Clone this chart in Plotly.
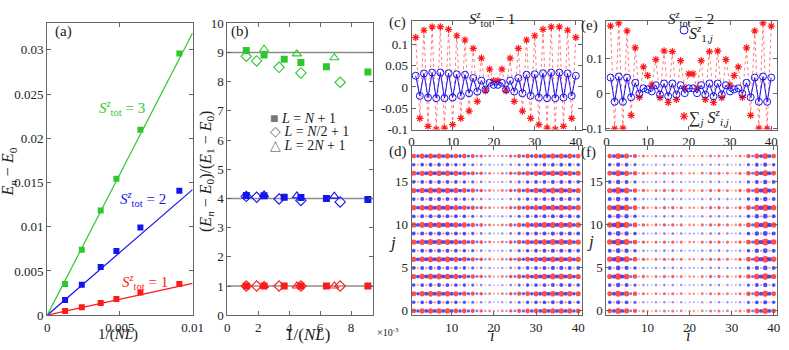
import plotly.graph_objects as go

W, H = 789, 350

# ---- panel (a) / (b): finite size gaps, L = N + 1 -------------------------
inv_nl = [0.00123, 0.00238, 0.00368, 0.00476, 0.00641, 0.00909]
gap_s1 = [0.00047, 0.0009, 0.00137, 0.00184, 0.00256, 0.00354]
gap_s2 = [0.00173, 0.00343, 0.00544, 0.00725, 0.00992, 0.01406]
gap_s3 = [0.00353, 0.0074, 0.01183, 0.01543, 0.02095, 0.02957]
fit_slope = [0.36, 1.42, 3.19]  # linear fits for S=1,2,3
fit_x = [0.0, 0.01]

# panel (b): (E_n - E_0)/(E_1 - E_0)
inv_nl_half = [0.00123, 0.0019, 0.00335, 0.00476, 0.0073]   # L = N/2 + 1
inv_nl_two = [0.00238, 0.0045, 0.00692]                    # L = 2N + 1
ratio_sq_s1 = [1.0, 1.0, 1.0, 1.0, 1.0, 1.0]
ratio_sq_s2 = [4.10, 4.09, 4.04, 4.03, 4.00, 3.96]
ratio_sq_s3 = [9.07, 8.91, 8.77, 8.66, 8.51, 8.33]
ratio_di_s1 = [1.0, 1.0, 1.0, 1.0, 1.0]
ratio_di_s2 = [4.07, 4.04, 3.98, 3.93, 3.88]
ratio_di_s3 = [8.87, 8.71, 8.49, 8.30, 7.98]
ratio_tr_s1 = [1.02, 1.0, 1.0]
ratio_tr_s2 = [4.12, 4.09, 4.08]
ratio_tr_s3 = [9.11, 8.95, 8.82]
ref_levels = [1, 4, 9]

# ---- panels (c) / (e) ------------------------------------------------------
site = list(range(1, 41))
c_sum = [0.117, -0.074, 0.134, -0.093, 0.142, -0.100, 0.142, -0.097, 0.136, -0.089,
         0.121, -0.074, 0.111, -0.057, 0.091, -0.034, 0.068, -0.009, 0.042, 0.015,
         0.015, 0.042, -0.009, 0.068, -0.034, 0.091, -0.057, 0.111, -0.074, 0.121,
         -0.089, 0.136, -0.097, 0.142, -0.100, 0.142, -0.093, 0.134, -0.074, 0.117]
c_spin = [0.0265, -0.021, 0.032, -0.025, 0.034, -0.0265, 0.034, -0.0265, 0.0326, -0.025,
          0.030, -0.021, 0.029, -0.015, 0.021, -0.011, 0.015, -0.006, 0.010, 0.005,
          0.005, 0.010, -0.006, 0.015, -0.011, 0.021, -0.015, 0.029, -0.021, 0.030,
          -0.025, 0.0326, -0.0265, 0.034, -0.0265, 0.034, -0.025, 0.032, -0.021, 0.0265]
e_sum = [0.195, -0.102, 0.204, -0.100, 0.181, -0.063, 0.132, -0.011, 0.077, 0.052,
         0.024, 0.098, -0.012, 0.123, -0.026, 0.121, -0.017, 0.095, 0.015, 0.057,
         0.057, 0.015, 0.095, -0.017, 0.121, -0.026, 0.123, -0.012, 0.098, 0.024,
         0.052, 0.077, -0.011, 0.132, -0.063, 0.181, -0.100, 0.204, -0.102, 0.195]
e_spin = [0.046, -0.024, 0.049, -0.024, 0.046, -0.011, 0.031, 0.0, 0.015, 0.012,
          0.006, 0.024, -0.003, 0.029, -0.008, 0.029, -0.003, 0.024, 0.001, 0.015,
          0.015, 0.001, 0.024, -0.003, 0.029, -0.008, 0.029, -0.003, 0.024, 0.006,
          0.012, 0.015, 0.0, 0.031, -0.011, 0.046, -0.024, 0.049, -0.024, 0.046]

# ---- panels (d) / (f): S^z_{i,j}, even-j rows, odd-j rows and row weights ---
rows = list(range(19))
d_even = [0.030, -0.018, 0.033, -0.020, 0.035, -0.021, 0.035, -0.021, 0.034, -0.020,
          0.031, -0.018, 0.028, -0.015, 0.023, -0.011, 0.017, -0.007, 0.011, 0.006,
          0.006, 0.011, -0.007, 0.017, -0.011, 0.023, -0.015, 0.028, -0.018, 0.031,
          -0.020, 0.034, -0.021, 0.035, -0.021, 0.035, -0.020, 0.033, -0.018, 0.030]
d_odd = [-0.018, 0.006, -0.020, 0.007, -0.021, 0.007, -0.021, 0.007, -0.020, 0.007,
         -0.019, 0.006, -0.017, 0.005, -0.014, 0.004, -0.010, 0.003, -0.007, -0.003,
         -0.003, -0.007, 0.003, -0.010, 0.004, -0.014, 0.005, -0.017, 0.006, -0.019,
         0.007, -0.020, 0.007, -0.021, 0.007, -0.021, 0.007, -0.020, 0.006, -0.018]
d_row_w = [0.9, 0.9, 0.95, 0.95, 1.0, 1.0, 1.0, 1.0, 1.05, 1.05,
           1.05, 1.0, 1.0, 1.0, 1.0, 0.95, 0.95, 0.9, 0.9]
f_even = [0.030, -0.022, 0.040, -0.022, 0.034, -0.012, 0.026, -0.004, 0.014, 0.008,
          0.004, 0.012, -0.004, 0.014, -0.005, 0.014, -0.004, 0.012, 0.002, 0.008,
          0.008, 0.002, 0.012, -0.004, 0.014, -0.005, 0.014, -0.004, 0.012, 0.004,
          0.008, 0.014, -0.004, 0.026, -0.012, 0.034, -0.022, 0.040, -0.022, 0.030]
f_odd = [-0.020, 0.006, -0.026, 0.006, -0.022, 0.004, -0.016, 0.002, -0.008, -0.004,
         -0.003, -0.008, 0.002, -0.009, 0.003, -0.009, 0.002, -0.008, -0.002, -0.005,
         -0.005, -0.002, -0.008, 0.002, -0.009, 0.003, -0.009, 0.002, -0.008, -0.003,
         -0.004, -0.008, 0.002, -0.016, 0.004, -0.022, 0.006, -0.026, 0.006, -0.020]
f_row_w = [0.85, 0.85, 0.92, 0.92, 1.0, 1.0, 1.05, 1.05, 1.08, 1.08,
           1.08, 1.05, 1.05, 1.0, 1.0, 0.92, 0.92, 0.85, 0.85]

RED, BLUE, GREEN, GRAY = "#ff1a1a", "#1414f0", "#2ec82e", "#8c8c8c"
SERIF = "Liberation Serif, Times New Roman, serif"


def px(x):
    return x / W


def py(y):
    return 1 - y / H


fig = go.Figure()

# panel (a)
for vals, slope, col in [(gap_s1, fit_slope[0], RED), (gap_s2, fit_slope[1], BLUE),
                         (gap_s3, fit_slope[2], GREEN)]:
    fig.add_trace(go.Scatter(x=fit_x, y=[slope * v for v in fit_x], mode="lines",
                             line=dict(color=col, width=1.2), xaxis="x", yaxis="y"))
    fig.add_trace(go.Scatter(x=inv_nl, y=vals, mode="markers",
                             marker=dict(symbol="square", size=6, color=col),
                             xaxis="x", yaxis="y"))

# panel (b)
for lev in ref_levels:
    fig.add_trace(go.Scatter(x=[0, 9.44], y=[lev, lev], mode="lines",
                             line=dict(color=GRAY, width=1.6), xaxis="x2", yaxis="y2"))
to_milli = lambda xs: [v * 1000 for v in xs]
for sq, di, tr, col in [(ratio_sq_s1, ratio_di_s1, ratio_tr_s1, RED),
                        (ratio_sq_s2, ratio_di_s2, ratio_tr_s2, BLUE),
                        (ratio_sq_s3, ratio_di_s3, ratio_tr_s3, GREEN)]:
    fig.add_trace(go.Scatter(x=to_milli(inv_nl), y=sq, mode="markers",
                             marker=dict(symbol="square", size=7, color=col),
                             xaxis="x2", yaxis="y2"))
    fig.add_trace(go.Scatter(x=to_milli(inv_nl_half), y=di, mode="markers",
                             marker=dict(symbol="diamond-open", size=8, color=col,
                                         line=dict(width=1.1, color=col)),
                             xaxis="x2", yaxis="y2"))
    fig.add_trace(go.Scatter(x=to_milli(inv_nl_two), y=tr, mode="markers",
                             marker=dict(symbol="triangle-up-open", size=8, color=col,
                                         line=dict(width=1.1, color=col)),
                             xaxis="x2", yaxis="y2"))

# panels (c) and (e)
STAR = dict(symbol="asterisk-open", size=6, color=RED, line=dict(width=1.2, color=RED))
RING = dict(symbol="circle-open", size=7, color=BLUE, line=dict(width=1, color=BLUE))
for s_sum, s_spin, xa, ya in [(c_sum, c_spin, "x3", "y3"), (e_sum, e_spin, "x5", "y5")]:
    fig.add_trace(go.Scatter(x=site, y=s_sum, mode="lines+markers",
                             line=dict(color="rgba(255,90,90,0.8)", width=1, dash="dot"),
                             marker=STAR, xaxis=xa, yaxis=ya))
    fig.add_trace(go.Scatter(x=site, y=s_spin, mode="lines+markers",
                             line=dict(color=BLUE, width=1),
                             marker=RING, xaxis=xa, yaxis=ya))


# panels (d) and (f): dot maps
def dot_map(even, odd, row_w, xa, ya):
    xs, ys, sizes, cols = [], [], [], []
    for j in rows:
        base = even if j % 2 == 0 else odd
        for i, v0 in zip(site, base):
            v = v0 * row_w[j]
            a = 0.3 + 0.7 * min(1.0, abs(v) / 0.016)
            xs.append(i)
            ys.append(j)
            sizes.append(1.6 + 120 * abs(v))
            cols.append(f"rgba(255,0,0,{a:.2f})" if v > 0 else f"rgba(0,0,255,{a:.2f})")
    fig.add_trace(go.Scatter(x=xs, y=ys, mode="markers",
                             marker=dict(size=sizes, color=cols, line=dict(width=0)),
                             xaxis=xa, yaxis=ya))


dot_map(d_even, d_odd, d_row_w, "x4", "y4")
dot_map(f_even, f_odd, f_row_w, "x6", "y6")
fig.update_traces(showlegend=False)

# legend symbols of (e), one small legend per entry; the labels are annotations
fig.add_trace(go.Scatter(x=[None], y=[None], mode="markers", marker=dict(RING, size=8),
                         name=" ", showlegend=True, legend="legend",
                         xaxis="x5", yaxis="y5"))
fig.add_trace(go.Scatter(x=[None], y=[None], mode="markers", marker=dict(STAR, size=7),
                         name=" ", showlegend=True, legend="legend2",
                         xaxis="x5", yaxis="y5"))

tick_font = dict(family=SERIF, size=13, color="#222")
base_ax = dict(showline=True, linecolor="#666", linewidth=1, mirror="allticks",
               ticks="inside", ticklen=4, tickcolor="#666", showgrid=False,
               zeroline=False, tickfont=tick_font, fixedrange=True)


def ax(dom, rng, anchor, tickvals, ticktext=None):
    d = dict(base_ax, domain=dom, range=rng, anchor=anchor, tickvals=tickvals)
    if ticktext is not None:
        d["ticktext"] = ticktext
    return d


def small_legend(x, y):
    return dict(x=px(x), y=py(y), xanchor="left", yanchor="top", bgcolor="rgba(0,0,0,0)",
                borderwidth=0, font=dict(size=10), itemwidth=30)


xa_dom = [px(45), px(193)]
xb_dom = [px(228.3), px(377)]
xc_dom = [px(416), px(589)]
xe_dom = [px(614.3), px(788)]
y_full = [py(322), py(17)]
y_top = [py(128), py(15)]
y_bot = [py(322), py(145)]

fig.update_layout(
    width=W, height=H, margin=dict(l=0, r=0, t=0, b=0),
    paper_bgcolor="white", plot_bgcolor="white", showlegend=True,
    font=dict(family=SERIF, color="#222"),
    legend=small_legend(673, 9),
    legend2=small_legend(673, 99),
    xaxis=ax(xa_dom, [0, 0.01], "y", [0, 0.005, 0.01], ["0", "0.005", "0.01"]),
    yaxis=ax(y_full, [0, 0.033], "x", [0, 0.005, 0.01, 0.015, 0.02, 0.025, 0.03],
             ["0", "0.005", "0.01", "0.015", "0.02", "0.025", "0.03"]),
    xaxis2=ax(xb_dom, [0, 9.44], "y2", [0, 2, 4, 6, 8]),
    yaxis2=ax(y_full, [0, 10], "x2", list(range(11))),
    xaxis3=ax(xc_dom, [0, 41.4], "y3", [0, 10, 20, 30, 40]),
    yaxis3=ax(y_top, [-0.1005, 0.155], "x3", [-0.1, -0.05, 0, 0.05, 0.1],
              ["-0.1", "-0.05", "0", "0.05", "0.1"]),
    xaxis4=ax(xc_dom, [0.5, 40.8], "y4", [10, 20, 30, 40]),
    yaxis4=ax(y_bot, [-0.5, 19.2], "x4", [0, 5, 10, 15]),
    xaxis5=ax(xe_dom, [0, 41.4], "y5", [0, 10, 20, 30, 40]),
    yaxis5=ax(y_top, [-0.104, 0.2085], "x5", [-0.1, 0, 0.1], ["-0.1", "0", "0.1"]),
    xaxis6=ax(xe_dom, [0.2, 40.8], "y6", [10, 20, 30, 40]),
    yaxis6=ax(y_bot, [-0.5, 19.2], "x6", [0, 5, 10, 15]),
)

S_TOT = "<i>S</i><sup><i>z</i></sup><sub>tot</sub>"


def note(text, x, y, size=15, color="#222", xanchor="left", yanchor="middle", angle=0):
    fig.add_annotation(text=text, x=px(x), y=py(y), xref="paper", yref="paper",
                       showarrow=False, xanchor=xanchor, yanchor=yanchor,
                       textangle=angle, font=dict(family=SERIF, size=size, color=color))


# panel tags
note("(a)", 51, 26)
note("(b)", 230, 26)
note("(c)", 391, 16)
note("(d)", 391, 151)
note("(e)", 586, 19)
note("(f)", 586, 152)

# titles
note(S_TOT + " = 1", 498, 0, xanchor="center", yanchor="top")
note(S_TOT + " = 2", 700, 0, xanchor="center", yanchor="top")

# curve labels in (a)
note(S_TOT + " = 3", 96, 105, color=GREEN)
note(S_TOT + " = 2", 117, 201, color=BLUE)
note(S_TOT + " = 1", 119, 287, color=RED)

# axis titles
note("<i>E</i><sub><i>n</i></sub> − <i>E</i><sub>0</sub>", 6, 172, size=16,
     xanchor="center", angle=-90)
note("1/(<i>NL</i>)", 117, 331, size=15, xanchor="center", yanchor="top")
note("(<i>E</i><sub><i>n</i></sub> − <i>E</i><sub>0</sub>)/(<i>E</i><sub>1</sub> − <i>E</i><sub>0</sub>)",
     207, 172, size=16, xanchor="center", angle=-90)
note("1/(<i>NL</i>)", 310, 330, size=17, xanchor="center", yanchor="top")
note("×10<sup>-3</sup>", 379, 331, size=10, yanchor="top")
note("<i>j</i>", 397, 246, size=17, xanchor="center")
note("<i>i</i>", 498, 332, size=16, xanchor="center", yanchor="top")
note("<i>j</i>", 598, 245, size=17, xanchor="center")
note("<i>i</i>", 697, 332, size=16, xanchor="center", yanchor="top")

# legend of (b)
note("<span style='color:#777'>■</span> <i>L</i> = <i>N</i> + 1", 270, 116, size=14)
note("<span style='color:#777'>◇</span> <i>L</i> = <i>N</i>/2 + 1", 270, 130, size=14)
note("<span style='color:#777'>△</span> <i>L</i> = 2<i>N</i> + 1", 270, 145, size=14)

# labels of the (e) legend
note("<i>S</i><sup><i>z</i></sup><sub>1,<i>j</i></sub>", 696, 27, size=16)
note("∑<sub><i>j</i></sub> <i>S</i><sup><i>z</i></sup><sub><i>i,j</i></sub>", 696, 115, size=16)

# the page is shown edge to edge, so drop the browser's default body margin
fig.write_html("out.html", config={"displayModeBar": False},
               post_script="document.body.style.margin='0';")
